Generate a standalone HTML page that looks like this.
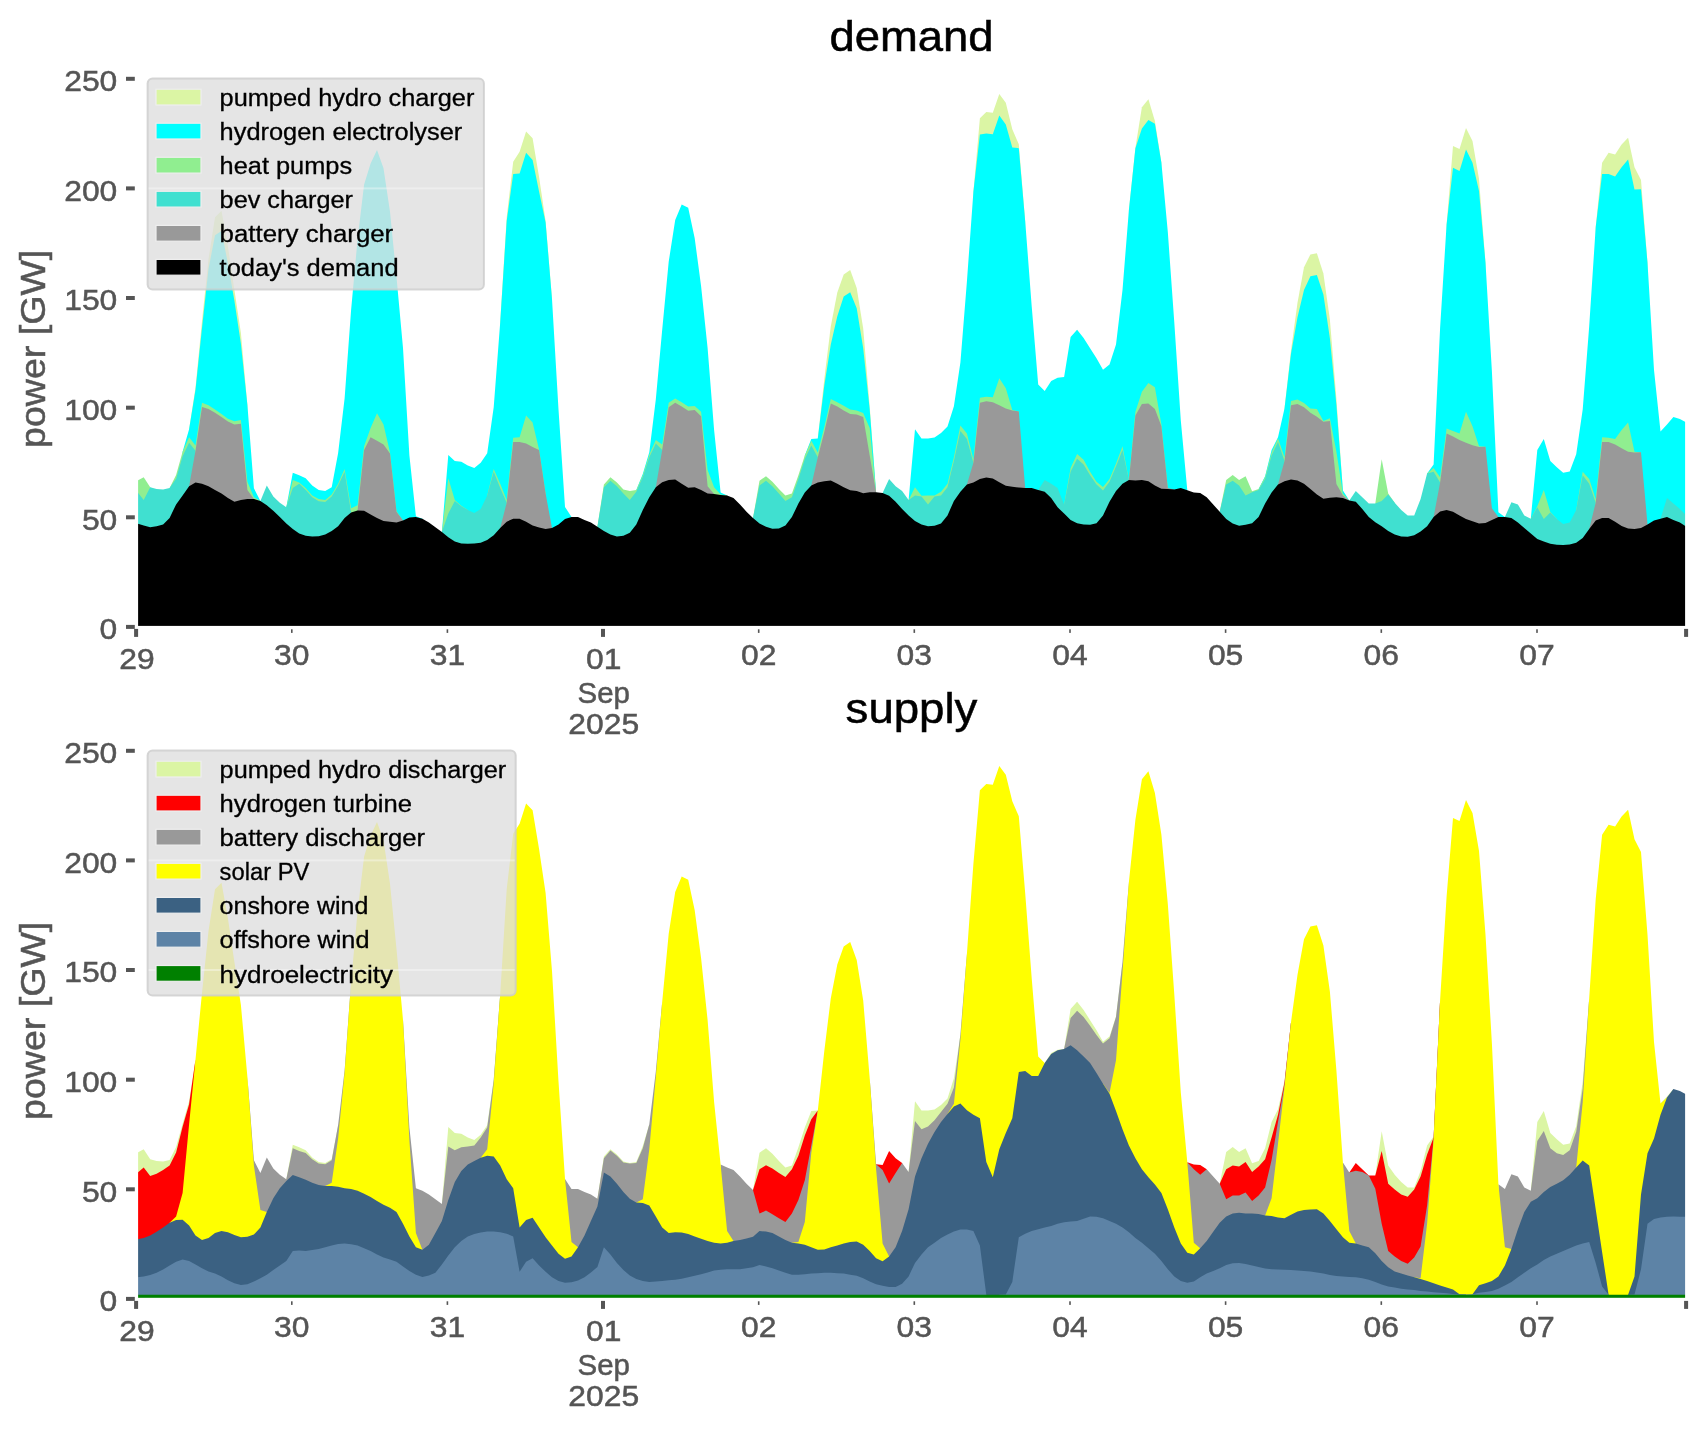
<!DOCTYPE html><html lang="en"><head><meta charset="utf-8"><title>demand / supply</title><style>html,body{margin:0;padding:0;background:#fff;}body{width:1706px;height:1431px;overflow:hidden;font-family:"Liberation Sans",sans-serif;}svg{display:block;will-change:transform}</style></head><body><svg width="1706" height="1431" viewBox="0 0 1706 1431" font-family="'Liberation Sans', sans-serif">
<rect width="1706" height="1431" fill="#fff"/>
<polygon fill="#dbf5a4" points="189.1,626.1 189.1,429.2 195.5,387.6 202.0,320.9 208.5,259.0 215.0,217.2 221.5,210.8 227.9,246.3 234.4,290.0 240.9,332.9 247.4,405.1 247.4,626.1"/>
<polygon fill="#dbf5a4" points="500.2,626.1 500.2,322.6 506.7,217.2 513.2,161.8 519.6,151.7 526.1,131.4 532.6,138.2 539.1,177.3 545.6,220.9 552.0,299.0 552.0,626.1"/>
<polygon fill="#dbf5a4" points="817.8,626.1 817.8,438.4 824.3,378.9 830.8,326.3 837.3,292.6 843.7,274.5 850.2,269.9 856.7,288.1 863.2,328.5 869.7,406.2 876.1,492.2 876.1,626.1"/>
<polygon fill="#dbf5a4" points="973.4,626.1 973.4,191.8 979.9,118.3 986.3,112.1 992.8,112.8 999.3,94.0 1005.8,102.7 1012.3,129.2 1018.8,144.3 1025.2,221.3 1025.2,626.1"/>
<polygon fill="#dbf5a4" points="1128.9,626.1 1128.9,209.9 1135.4,147.8 1141.9,107.3 1148.4,99.2 1154.9,120.9 1161.4,162.7 1161.4,626.1"/>
<polygon fill="#dbf5a4" points="1284.5,626.1 1284.5,408.4 1291.0,350.2 1297.5,302.7 1304.0,267.3 1310.4,254.6 1316.9,253.3 1323.4,273.6 1329.9,319.8 1336.4,398.5 1342.9,490.4 1342.9,626.1"/>
<polygon fill="#dbf5a4" points="1446.6,626.1 1446.6,224.6 1453.0,146.1 1459.5,149.1 1466.0,128.1 1472.5,141.0 1479.0,179.1 1485.5,262.7 1485.5,626.1"/>
<polygon fill="#dbf5a4" points="1595.7,626.1 1595.7,227.2 1602.1,162.7 1608.6,152.8 1615.1,154.6 1621.6,144.5 1628.1,137.7 1634.5,167.3 1641.0,180.0 1647.5,262.7 1647.5,626.1"/>
<polygon fill="#00ffff" points="182.6,626.1 182.6,451.7 189.1,429.2 195.5,389.8 202.0,328.1 208.5,269.0 215.0,235.3 221.5,230.9 227.9,263.5 234.4,300.7 240.9,343.8 247.4,405.1 253.9,488.3 260.4,500.9 260.4,626.1"/>
<polygon fill="#00ffff" points="286.3,626.1 286.3,507.3 292.8,472.7 299.2,475.3 305.7,478.2 312.2,485.4 318.7,490.0 325.2,490.9 331.7,487.2 338.1,453.2 344.6,398.5 351.1,309.9 357.6,239.0 364.1,184.6 370.6,163.6 377.0,150.0 383.5,168.2 390.0,211.7 396.5,277.1 403.0,348.0 409.4,455.4 415.9,516.3 422.4,518.7 422.4,626.1"/>
<polygon fill="#00ffff" points="441.9,626.1 441.9,532.0 448.3,455.0 454.8,460.9 461.3,461.8 467.8,465.5 474.3,468.1 480.7,462.7 487.2,453.2 493.7,407.3 500.2,322.6 506.7,220.9 513.2,174.1 519.6,173.6 526.1,152.8 532.6,160.1 539.1,191.8 545.6,222.6 552.0,299.0 558.5,409.5 565.0,506.9 571.5,516.9 571.5,626.1"/>
<polygon fill="#00ffff" points="636.3,626.1 636.3,490.0 642.8,474.0 649.3,452.2 655.8,399.6 662.2,329.8 668.7,261.8 675.2,220.0 681.7,204.5 688.2,207.8 694.7,238.2 701.1,286.3 707.6,348.0 714.1,430.1 720.6,492.6 727.1,495.5 727.1,626.1"/>
<polygon fill="#00ffff" points="804.8,626.1 804.8,455.4 811.3,439.0 817.8,438.4 824.3,385.4 830.8,344.5 837.3,316.3 843.7,296.4 850.2,292.2 856.7,308.2 863.2,348.2 869.7,409.5 876.1,492.2 876.1,626.1"/>
<polygon fill="#00ffff" points="908.6,626.1 908.6,499.9 915.0,429.2 921.5,438.4 928.0,438.6 934.5,437.5 941.0,432.9 947.5,426.6 953.9,406.2 960.4,362.4 966.9,281.7 973.4,191.8 979.9,134.5 986.3,133.6 992.8,134.2 999.3,115.4 1005.8,124.6 1012.3,147.4 1018.8,148.2 1025.2,221.3 1031.7,306.2 1038.2,384.5 1044.7,390.9 1051.2,381.0 1057.6,377.8 1064.1,377.1 1070.6,337.1 1077.1,329.8 1083.6,337.9 1090.1,348.2 1096.5,358.3 1103.0,369.7 1109.5,364.4 1116.0,344.5 1122.5,290.0 1128.9,209.9 1135.4,148.2 1141.9,128.5 1148.4,120.0 1154.9,123.7 1161.4,162.7 1167.8,231.8 1174.3,322.6 1180.8,420.4 1187.3,490.2 1187.3,626.1"/>
<polygon fill="#00ffff" points="1258.6,626.1 1258.6,489.1 1265.1,476.2 1271.6,450.0 1278.0,437.3 1284.5,408.4 1291.0,353.7 1297.5,317.2 1304.0,290.0 1310.4,276.2 1316.9,275.1 1323.4,294.4 1329.9,338.4 1336.4,405.1 1342.9,490.4 1349.3,500.5 1349.3,626.1"/>
<polygon fill="#00ffff" points="1427.1,626.1 1427.1,473.6 1433.6,464.4 1440.1,328.1 1446.6,224.6 1453.0,167.7 1459.5,171.0 1466.0,149.6 1472.5,162.7 1479.0,190.9 1485.5,262.7 1491.9,371.2 1498.4,512.3 1504.9,517.1 1504.9,626.1"/>
<polygon fill="#00ffff" points="1530.8,626.1 1530.8,518.7 1537.3,450.0 1543.8,439.0 1550.3,460.9 1556.8,467.3 1563.2,472.7 1569.7,471.6 1576.2,454.3 1582.7,409.5 1589.2,326.3 1595.7,227.2 1602.1,174.1 1608.6,174.1 1615.1,176.5 1621.6,167.3 1628.1,159.6 1634.5,189.6 1641.0,189.2 1647.5,262.7 1654.0,370.1 1660.5,431.4 1667.0,424.6 1673.4,416.9 1679.9,419.1 1686.4,422.6 1686.4,626.1"/>
<polygon fill="#90ee90" points="137.2,626.1 137.2,480.8 143.7,477.3 150.2,487.2 150.2,626.1"/>
<polygon fill="#90ee90" points="169.6,626.1 169.6,488.0 176.1,474.9 182.6,451.7 189.1,437.3 195.5,445.4 202.0,402.7 208.5,405.3 215.0,409.5 221.5,414.1 227.9,418.7 234.4,421.3 240.9,420.0 247.4,481.7 253.9,497.2 260.4,500.9 260.4,626.1"/>
<polygon fill="#90ee90" points="286.3,626.1 286.3,507.3 292.8,479.9 299.2,482.6 305.7,488.0 312.2,495.5 318.7,499.0 325.2,499.9 331.7,494.4 338.1,483.7 344.6,469.0 351.1,508.2 357.6,505.3 364.1,446.2 370.6,428.1 377.0,413.2 383.5,424.6 390.0,452.6 396.5,511.2 403.0,520.4 403.0,626.1"/>
<polygon fill="#90ee90" points="441.9,626.1 441.9,532.0 448.3,478.2 454.8,499.9 461.3,505.8 467.8,509.9 467.8,626.1"/>
<polygon fill="#90ee90" points="487.2,626.1 487.2,495.5 493.7,469.0 500.2,483.7 506.7,499.9 513.2,437.7 519.6,437.3 526.1,415.4 532.6,422.6 539.1,449.7 545.6,493.5 545.6,626.1"/>
<polygon fill="#90ee90" points="597.4,626.1 597.4,526.8 603.9,484.5 610.4,477.3 616.9,482.6 623.4,489.6 629.8,490.9 636.3,490.0 642.8,475.3 649.3,454.6 655.8,439.9 662.2,444.5 668.7,402.7 675.2,398.5 681.7,402.3 688.2,406.4 694.7,406.0 701.1,411.7 707.6,469.9 714.1,487.2 720.6,494.4 727.1,495.5 727.1,626.1"/>
<polygon fill="#90ee90" points="753.0,626.1 753.0,518.0 759.5,480.8 766.0,476.2 772.4,481.7 778.9,489.1 785.4,495.5 791.9,493.5 798.4,475.3 804.8,455.4 811.3,440.8 817.8,452.6 824.3,427.0 830.8,399.0 837.3,402.3 843.7,405.8 850.2,409.5 856.7,410.4 863.2,413.0 869.7,428.1 876.1,492.2 876.1,626.1"/>
<polygon fill="#90ee90" points="908.6,626.1 908.6,499.9 915.0,487.2 921.5,495.7 928.0,495.5 934.5,495.5 941.0,491.8 947.5,483.7 953.9,457.2 960.4,425.5 966.9,433.6 973.4,459.2 979.9,397.7 986.3,396.8 992.8,397.2 999.3,378.2 1005.8,388.3 1012.3,409.9 1018.8,411.5 1018.8,626.1"/>
<polygon fill="#90ee90" points="1064.1,626.1 1064.1,504.4 1070.6,468.1 1077.1,453.9 1083.6,459.8 1090.1,471.8 1096.5,481.7 1103.0,486.9 1109.5,479.1 1116.0,463.5 1122.5,446.2 1128.9,479.9 1135.4,411.7 1141.9,391.8 1148.4,383.0 1154.9,387.2 1161.4,424.6 1167.8,488.0 1167.8,626.1"/>
<polygon fill="#90ee90" points="1219.7,626.1 1219.7,511.7 1226.2,479.9 1232.7,474.9 1239.1,479.9 1245.6,476.2 1252.1,491.3 1258.6,489.1 1265.1,477.1 1271.6,452.6 1278.0,438.2 1284.5,457.2 1291.0,401.0 1297.5,399.4 1304.0,403.1 1310.4,408.6 1316.9,409.1 1323.4,420.9 1329.9,418.2 1336.4,451.7 1342.9,493.5 1349.3,500.5 1349.3,626.1"/>
<polygon fill="#90ee90" points="1375.3,626.1 1375.3,503.6 1381.7,459.2 1388.2,493.5 1394.7,502.7 1394.7,626.1"/>
<polygon fill="#90ee90" points="1427.1,626.1 1427.1,473.6 1433.6,468.1 1440.1,477.3 1446.6,428.5 1453.0,430.9 1459.5,433.6 1466.0,411.7 1472.5,426.3 1479.0,446.2 1485.5,446.7 1485.5,626.1"/>
<polygon fill="#90ee90" points="1530.8,626.1 1530.8,518.7 1537.3,506.2 1543.8,490.0 1550.3,512.1 1556.8,519.1 1556.8,626.1"/>
<polygon fill="#90ee90" points="1576.2,626.1 1576.2,509.9 1582.7,471.8 1589.2,479.1 1595.7,499.2 1602.1,437.3 1608.6,437.7 1615.1,439.0 1621.6,430.1 1628.1,422.6 1634.5,451.7 1641.0,452.2 1641.0,626.1"/>
<polygon fill="#40e0d0" points="137.2,626.1 137.2,491.8 143.7,499.9 150.2,487.2 156.6,489.1 163.1,489.6 169.6,488.0 176.1,478.8 182.6,456.3 189.1,442.7 195.5,450.8 195.5,626.1"/>
<polygon fill="#40e0d0" points="260.4,626.1 260.4,500.9 266.8,485.4 273.3,496.4 279.8,502.7 286.3,507.3 292.8,488.0 299.2,483.7 305.7,490.0 312.2,497.2 318.7,501.2 325.2,502.0 331.7,496.6 338.1,485.8 344.6,471.8 351.1,512.5 351.1,626.1"/>
<polygon fill="#40e0d0" points="441.9,626.1 441.9,532.0 448.3,513.6 454.8,500.9 461.3,506.2 467.8,509.9 474.3,513.0 480.7,509.0 487.2,495.5 493.7,471.8 500.2,488.0 506.7,502.7 506.7,626.1"/>
<polygon fill="#40e0d0" points="597.4,626.1 597.4,526.8 603.9,487.2 610.4,480.8 616.9,486.3 623.4,493.5 629.8,499.9 636.3,491.8 642.8,477.1 649.3,457.2 655.8,443.6 662.2,450.0 662.2,626.1"/>
<polygon fill="#40e0d0" points="753.0,626.1 753.0,518.0 759.5,485.4 766.0,480.8 772.4,486.3 778.9,493.5 785.4,500.9 791.9,497.2 798.4,479.1 804.8,458.9 811.3,445.4 817.8,457.2 817.8,626.1"/>
<polygon fill="#40e0d0" points="882.6,626.1 882.6,493.1 889.1,479.1 895.6,486.3 902.1,490.9 908.6,499.9 915.0,495.5 921.5,496.4 928.0,504.4 934.5,496.4 941.0,495.5 947.5,487.2 953.9,460.9 960.4,430.9 966.9,439.0 973.4,462.7 973.4,626.1"/>
<polygon fill="#40e0d0" points="1038.2,626.1 1038.2,490.0 1044.7,479.9 1051.2,483.7 1057.6,488.0 1064.1,504.4 1070.6,471.8 1077.1,458.7 1083.6,464.4 1090.1,475.3 1096.5,484.5 1103.0,490.4 1109.5,481.7 1116.0,466.4 1122.5,450.0 1128.9,479.9 1128.9,626.1"/>
<polygon fill="#40e0d0" points="1219.7,626.1 1219.7,511.7 1226.2,484.5 1232.7,480.8 1239.1,485.4 1245.6,495.5 1252.1,492.2 1258.6,490.0 1265.1,479.1 1271.6,455.4 1278.0,441.9 1284.5,460.9 1284.5,626.1"/>
<polygon fill="#40e0d0" points="1349.3,626.1 1349.3,500.5 1355.8,490.9 1362.3,497.2 1368.8,503.6 1375.3,503.6 1381.7,500.9 1388.2,494.6 1394.7,502.7 1401.2,509.9 1407.7,515.4 1414.2,515.4 1420.6,499.0 1427.1,473.6 1433.6,471.8 1440.1,482.6 1440.1,626.1"/>
<polygon fill="#40e0d0" points="1504.9,626.1 1504.9,517.1 1511.4,502.3 1517.9,504.4 1524.3,515.4 1530.8,518.7 1537.3,507.3 1543.8,519.1 1550.3,512.5 1556.8,519.1 1563.2,524.1 1569.7,522.6 1576.2,509.9 1582.7,475.3 1589.2,483.7 1595.7,502.7 1595.7,626.1"/>
<polygon fill="#40e0d0" points="1660.5,626.1 1660.5,518.7 1667.0,498.1 1673.4,503.6 1679.9,509.0 1686.4,515.4 1686.4,626.1"/>
<polygon fill="#999999" points="189.1,626.1 189.1,486.3 195.5,450.8 202.0,406.9 208.5,409.1 215.0,412.8 221.5,417.1 227.9,421.5 234.4,424.6 240.9,423.7 247.4,490.0 253.9,499.0 253.9,626.1"/>
<polygon fill="#999999" points="357.6,626.1 357.6,510.4 364.1,450.0 370.6,437.3 377.0,440.8 383.5,444.5 390.0,453.5 396.5,511.7 403.0,520.4 403.0,626.1"/>
<polygon fill="#999999" points="500.2,626.1 500.2,528.1 506.7,502.7 513.2,441.9 519.6,441.9 526.1,443.6 532.6,447.1 539.1,450.0 545.6,493.5 552.0,528.1 552.0,626.1"/>
<polygon fill="#999999" points="655.8,626.1 655.8,487.2 662.2,450.0 668.7,407.3 675.2,402.7 681.7,406.4 688.2,410.8 694.7,409.9 701.1,416.3 707.6,486.3 714.1,493.9 714.1,626.1"/>
<polygon fill="#999999" points="811.3,626.1 811.3,485.4 817.8,457.2 824.3,432.0 830.8,403.6 837.3,406.4 843.7,410.4 850.2,414.1 856.7,414.5 863.2,417.1 869.7,455.4 876.1,492.2 876.1,626.1"/>
<polygon fill="#999999" points="966.9,626.1 966.9,484.5 973.4,462.7 979.9,402.7 986.3,401.2 992.8,402.3 999.3,405.3 1005.8,408.6 1012.3,410.4 1018.8,411.5 1025.2,488.0 1025.2,626.1"/>
<polygon fill="#999999" points="1128.9,626.1 1128.9,479.9 1135.4,415.4 1141.9,404.0 1148.4,403.6 1154.9,409.1 1161.4,426.3 1167.8,488.0 1174.3,489.4 1174.3,626.1"/>
<polygon fill="#999999" points="1278.0,626.1 1278.0,484.5 1284.5,460.9 1291.0,405.3 1297.5,404.0 1304.0,407.3 1310.4,412.8 1316.9,416.7 1323.4,421.7 1329.9,420.9 1336.4,483.9 1342.9,495.5 1349.3,500.5 1349.3,626.1"/>
<polygon fill="#999999" points="1433.6,626.1 1433.6,517.1 1440.1,482.6 1446.6,433.6 1453.0,436.4 1459.5,439.9 1466.0,442.7 1472.5,445.2 1479.0,447.1 1485.5,446.7 1491.9,508.2 1498.4,517.1 1498.4,626.1"/>
<polygon fill="#999999" points="1589.2,626.1 1589.2,529.0 1595.7,502.7 1602.1,441.9 1608.6,441.9 1615.1,444.5 1621.6,448.2 1628.1,451.7 1634.5,452.6 1641.0,452.2 1647.5,524.4 1647.5,626.1"/>
<polygon fill="#000000" points="137.2,626.1 137.2,523.5 143.7,525.5 150.2,527.2 156.6,526.3 163.1,524.6 169.6,518.0 176.1,504.4 182.6,495.5 189.1,486.3 195.5,482.6 202.0,483.7 208.5,486.3 215.0,490.0 221.5,493.5 227.9,498.1 234.4,501.8 240.9,499.9 247.4,499.0 253.9,499.0 260.4,500.9 266.8,505.3 273.3,510.8 279.8,517.1 286.3,523.5 292.8,529.0 299.2,533.5 305.7,535.7 312.2,536.6 318.7,536.2 325.2,534.4 331.7,530.9 338.1,526.3 344.6,518.0 351.1,512.5 357.6,510.4 364.1,510.8 370.6,514.5 377.0,518.0 383.5,520.9 390.0,521.7 396.5,522.6 403.0,520.4 409.4,517.6 415.9,517.1 422.4,518.7 428.9,522.6 435.4,527.2 441.9,532.0 448.3,537.3 454.8,541.6 461.3,543.6 467.8,543.8 474.3,543.6 480.7,542.7 487.2,539.9 493.7,535.3 500.2,528.1 506.7,521.7 513.2,518.7 519.6,518.7 526.1,521.7 532.6,525.5 539.1,527.6 545.6,529.0 552.0,528.1 558.5,524.4 565.0,519.1 571.5,516.9 578.0,516.9 584.5,520.0 590.9,522.6 597.4,526.8 603.9,530.9 610.4,534.4 616.9,536.4 623.4,535.7 629.8,532.7 636.3,524.4 642.8,509.9 649.3,497.2 655.8,487.2 662.2,482.3 668.7,479.9 675.2,479.5 681.7,483.7 688.2,487.8 694.7,487.2 701.1,490.0 707.6,493.5 714.1,493.9 720.6,495.0 727.1,495.5 733.5,498.1 740.0,504.4 746.5,511.7 753.0,518.0 759.5,523.5 766.0,526.8 772.4,528.7 778.9,528.5 785.4,525.5 791.9,517.1 798.4,503.6 804.8,492.6 811.3,485.4 817.8,482.6 824.3,481.3 830.8,480.4 837.3,483.7 843.7,487.2 850.2,490.2 856.7,491.1 863.2,493.3 869.7,492.2 876.1,492.2 882.6,493.1 889.1,495.7 895.6,501.8 902.1,509.0 908.6,515.4 915.0,520.9 921.5,524.4 928.0,526.3 934.5,525.7 941.0,523.5 947.5,515.4 953.9,500.9 960.4,491.8 966.9,484.5 973.4,482.6 979.9,479.1 986.3,477.5 992.8,478.4 999.3,482.3 1005.8,485.8 1012.3,486.7 1018.8,487.6 1025.2,488.0 1031.7,488.0 1038.2,490.0 1044.7,491.8 1051.2,498.1 1057.6,507.3 1064.1,513.6 1070.6,520.0 1077.1,523.3 1083.6,524.4 1090.1,524.8 1096.5,523.3 1103.0,515.4 1109.5,501.8 1116.0,490.9 1122.5,483.7 1128.9,479.9 1135.4,480.4 1141.9,479.9 1148.4,481.3 1154.9,485.4 1161.4,488.7 1167.8,489.1 1174.3,489.4 1180.8,488.0 1187.3,490.2 1193.8,492.6 1200.2,493.1 1206.7,497.2 1213.2,504.4 1219.7,511.7 1226.2,519.1 1232.7,523.5 1239.1,525.7 1245.6,524.8 1252.1,523.3 1258.6,516.9 1265.1,503.6 1271.6,492.6 1278.0,484.5 1284.5,481.3 1291.0,479.5 1297.5,480.4 1304.0,483.7 1310.4,489.1 1316.9,494.4 1323.4,498.8 1329.9,497.7 1336.4,497.2 1342.9,498.1 1349.3,500.5 1355.8,501.8 1362.3,509.0 1368.8,516.9 1375.3,522.2 1381.7,526.3 1388.2,530.9 1394.7,534.4 1401.2,536.6 1407.7,536.8 1414.2,535.3 1420.6,531.4 1427.1,526.3 1433.6,517.1 1440.1,511.4 1446.6,509.9 1453.0,511.7 1459.5,515.4 1466.0,519.1 1472.5,521.3 1479.0,523.5 1485.5,523.0 1491.9,520.0 1498.4,517.1 1504.9,517.1 1511.4,518.0 1517.9,522.6 1524.3,528.1 1530.8,533.5 1537.3,539.0 1543.8,541.6 1550.3,543.8 1556.8,544.7 1563.2,544.9 1569.7,544.5 1576.2,542.7 1582.7,538.1 1589.2,529.0 1595.7,520.4 1602.1,518.0 1608.6,518.0 1615.1,521.7 1621.6,525.9 1628.1,528.5 1634.5,529.0 1641.0,528.1 1647.5,524.4 1654.0,520.4 1660.5,518.7 1667.0,517.1 1673.4,520.0 1679.9,522.6 1686.4,526.8 1686.4,626.1"/>
<rect x="133.5" y="64.1" width="4.6" height="564.4" fill="#fff"/>
<rect x="1685.1" y="64.1" width="3" height="564.4" fill="#fff"/>
<rect x="133.5" y="625.9" width="1555" height="2.6" fill="#fff"/>
<rect x="126" y="624.9" width="8.8" height="4" fill="#555555"/>
<text x="117.3" y="639.3" font-size="29.9" text-anchor="end" fill="#555555" stroke="#555555" stroke-width="0.5" textLength="17.7" lengthAdjust="spacingAndGlyphs">0</text>
<rect x="126" y="515.3" width="8.8" height="4" fill="#555555"/>
<text x="117.3" y="529.7" font-size="29.9" text-anchor="end" fill="#555555" stroke="#555555" stroke-width="0.5" textLength="35.4" lengthAdjust="spacingAndGlyphs">50</text>
<rect x="126" y="405.7" width="8.8" height="4" fill="#555555"/>
<text x="117.3" y="420.1" font-size="29.9" text-anchor="end" fill="#555555" stroke="#555555" stroke-width="0.5" textLength="53.1" lengthAdjust="spacingAndGlyphs">100</text>
<rect x="126" y="296.0" width="8.8" height="4" fill="#555555"/>
<text x="117.3" y="310.4" font-size="29.9" text-anchor="end" fill="#555555" stroke="#555555" stroke-width="0.5" textLength="53.1" lengthAdjust="spacingAndGlyphs">150</text>
<rect x="126" y="186.4" width="8.8" height="4" fill="#555555"/>
<text x="117.3" y="200.8" font-size="29.9" text-anchor="end" fill="#555555" stroke="#555555" stroke-width="0.5" textLength="53.1" lengthAdjust="spacingAndGlyphs">200</text>
<rect x="126" y="76.8" width="8.8" height="4" fill="#555555"/>
<text x="117.3" y="91.2" font-size="29.9" text-anchor="end" fill="#555555" stroke="#555555" stroke-width="0.5" textLength="53.1" lengthAdjust="spacingAndGlyphs">250</text>
<rect x="134.1" y="628.9" width="4" height="8" fill="#555555"/>
<text x="136.9" y="669.0" font-size="29.9" text-anchor="middle" fill="#555555" stroke="#555555" stroke-width="0.5" textLength="35.4" lengthAdjust="spacingAndGlyphs">29</text>
<rect x="291.0" y="629.3" width="1.6" height="3.6" fill="#555555"/>
<text x="291.7" y="665.0" font-size="29.9" text-anchor="middle" fill="#555555" stroke="#555555" stroke-width="0.5" textLength="35.4" lengthAdjust="spacingAndGlyphs">30</text>
<rect x="446.6" y="629.3" width="1.6" height="3.6" fill="#555555"/>
<text x="447.4" y="665.0" font-size="29.9" text-anchor="middle" fill="#555555" stroke="#555555" stroke-width="0.5" textLength="35.4" lengthAdjust="spacingAndGlyphs">31</text>
<rect x="601.0" y="628.9" width="4" height="8" fill="#555555"/>
<text x="603.8" y="669.0" font-size="29.9" text-anchor="middle" fill="#555555" stroke="#555555" stroke-width="0.5" textLength="35.4" lengthAdjust="spacingAndGlyphs">01</text>
<rect x="757.9" y="629.3" width="1.6" height="3.6" fill="#555555"/>
<text x="758.7" y="665.0" font-size="29.9" text-anchor="middle" fill="#555555" stroke="#555555" stroke-width="0.5" textLength="35.4" lengthAdjust="spacingAndGlyphs">02</text>
<rect x="913.5" y="629.3" width="1.6" height="3.6" fill="#555555"/>
<text x="914.3" y="665.0" font-size="29.9" text-anchor="middle" fill="#555555" stroke="#555555" stroke-width="0.5" textLength="35.4" lengthAdjust="spacingAndGlyphs">03</text>
<rect x="1069.2" y="629.3" width="1.6" height="3.6" fill="#555555"/>
<text x="1070.0" y="665.0" font-size="29.9" text-anchor="middle" fill="#555555" stroke="#555555" stroke-width="0.5" textLength="35.4" lengthAdjust="spacingAndGlyphs">04</text>
<rect x="1224.8" y="629.3" width="1.6" height="3.6" fill="#555555"/>
<text x="1225.6" y="665.0" font-size="29.9" text-anchor="middle" fill="#555555" stroke="#555555" stroke-width="0.5" textLength="35.4" lengthAdjust="spacingAndGlyphs">05</text>
<rect x="1380.5" y="629.3" width="1.6" height="3.6" fill="#555555"/>
<text x="1381.2" y="665.0" font-size="29.9" text-anchor="middle" fill="#555555" stroke="#555555" stroke-width="0.5" textLength="35.4" lengthAdjust="spacingAndGlyphs">06</text>
<rect x="1536.2" y="629.3" width="1.6" height="3.6" fill="#555555"/>
<text x="1536.9" y="665.0" font-size="29.9" text-anchor="middle" fill="#555555" stroke="#555555" stroke-width="0.5" textLength="35.4" lengthAdjust="spacingAndGlyphs">07</text>
<rect x="1684.1" y="628.9" width="4" height="8" fill="#555555"/>
<text x="603.7" y="702.8" font-size="29.2" text-anchor="middle" fill="#555555" stroke="#555555" stroke-width="0.5" textLength="52.4" lengthAdjust="spacingAndGlyphs">Sep</text>
<text x="603.7" y="734.1" font-size="29.9" text-anchor="middle" fill="#555555" stroke="#555555" stroke-width="0.5" textLength="70.8" lengthAdjust="spacingAndGlyphs">2025</text>
<text x="911.5" y="51.0" font-size="42.0" text-anchor="middle" fill="#000" stroke="#000" stroke-width="0.5" textLength="164.2" lengthAdjust="spacingAndGlyphs">demand</text>
<text x="45.0" y="348.8" font-size="35.0" text-anchor="middle" fill="#555555" stroke="#555555" stroke-width="0.5" textLength="198.2" lengthAdjust="spacingAndGlyphs" transform="rotate(-90 45.0 348.8)">power [GW]</text>
<rect x="147.6" y="78.5" width="336.3" height="211.1" rx="5" ry="5" fill="#dfdfdf" fill-opacity="0.8" stroke="#cccccc" stroke-opacity="0.8" stroke-width="2"/>
<rect x="148.6" y="187.4" width="334.3" height="2" fill="#ffffff" fill-opacity="0.36"/>
<rect x="156.0" y="89.2" width="45" height="15.8" fill="#dbf5a4" stroke="#eeeeee" stroke-width="1.2"/>
<text x="219.6" y="106.2" font-size="23.3" text-anchor="start" fill="#000" stroke="#000" stroke-width="0.3" textLength="254.8" lengthAdjust="spacingAndGlyphs">pumped hydro charger</text>
<rect x="156.0" y="123.2" width="45" height="15.8" fill="#00ffff" stroke="#eeeeee" stroke-width="1.2"/>
<text x="219.6" y="140.2" font-size="23.3" text-anchor="start" fill="#000" stroke="#000" stroke-width="0.3" textLength="242.7" lengthAdjust="spacingAndGlyphs">hydrogen electrolyser</text>
<rect x="156.0" y="157.3" width="45" height="15.8" fill="#90ee90" stroke="#eeeeee" stroke-width="1.2"/>
<text x="219.6" y="174.3" font-size="23.3" text-anchor="start" fill="#000" stroke="#000" stroke-width="0.3" textLength="132.5" lengthAdjust="spacingAndGlyphs">heat pumps</text>
<rect x="156.0" y="191.3" width="45" height="15.8" fill="#40e0d0" stroke="#eeeeee" stroke-width="1.2"/>
<text x="219.6" y="208.3" font-size="23.3" text-anchor="start" fill="#000" stroke="#000" stroke-width="0.3" textLength="133.4" lengthAdjust="spacingAndGlyphs">bev charger</text>
<rect x="156.0" y="225.4" width="45" height="15.8" fill="#999999" stroke="#eeeeee" stroke-width="1.2"/>
<text x="219.6" y="242.4" font-size="23.3" text-anchor="start" fill="#000" stroke="#000" stroke-width="0.3" textLength="173.6" lengthAdjust="spacingAndGlyphs">battery charger</text>
<rect x="156.0" y="259.4" width="45" height="15.8" fill="#000000" stroke="#eeeeee" stroke-width="1.2"/>
<text x="219.6" y="276.4" font-size="23.3" text-anchor="start" fill="#000" stroke="#000" stroke-width="0.3" textLength="179.0" lengthAdjust="spacingAndGlyphs">today's demand</text>
<polygon fill="#dbf5a4" points="137.2,1298.1 137.2,1152.8 143.7,1149.3 150.2,1159.2 156.6,1161.1 163.1,1161.6 169.6,1160.0 176.1,1146.9 182.6,1123.7 189.1,1101.2 195.5,1059.6 195.5,1298.1"/>
<polygon fill="#dbf5a4" points="286.3,1298.1 286.3,1179.3 292.8,1144.7 299.2,1147.3 305.7,1150.2 312.2,1157.4 318.7,1162.0 325.2,1162.9 331.7,1159.2 338.1,1125.2 338.1,1298.1"/>
<polygon fill="#dbf5a4" points="441.9,1298.1 441.9,1204.0 448.3,1127.0 454.8,1132.9 461.3,1133.8 467.8,1137.5 474.3,1140.1 480.7,1134.7 487.2,1125.2 493.7,1079.3 500.2,994.6 500.2,1298.1"/>
<polygon fill="#dbf5a4" points="597.4,1298.1 597.4,1198.8 603.9,1156.5 610.4,1149.3 616.9,1154.6 623.4,1161.6 629.8,1162.9 636.3,1162.0 642.8,1146.0 649.3,1124.2 649.3,1298.1"/>
<polygon fill="#dbf5a4" points="753.0,1298.1 753.0,1190.0 759.5,1152.8 766.0,1148.2 772.4,1153.7 778.9,1161.1 785.4,1167.5 791.9,1165.5 798.4,1147.3 804.8,1127.4 811.3,1111.0 817.8,1110.4 817.8,1298.1"/>
<polygon fill="#dbf5a4" points="908.6,1298.1 908.6,1171.9 915.0,1101.2 921.5,1110.4 928.0,1110.6 934.5,1109.5 941.0,1104.9 947.5,1098.6 953.9,1078.2 960.4,1034.4 960.4,1298.1"/>
<polygon fill="#dbf5a4" points="1044.7,1298.1 1044.7,1062.9 1051.2,1053.0 1057.6,1049.8 1064.1,1049.1 1070.6,1009.1 1077.1,1001.8 1083.6,1009.9 1090.1,1020.2 1096.5,1030.3 1103.0,1041.7 1109.5,1036.4 1116.0,1016.5 1122.5,962.0 1122.5,1298.1"/>
<polygon fill="#dbf5a4" points="1219.7,1298.1 1219.7,1183.7 1226.2,1151.9 1232.7,1146.9 1239.1,1151.9 1245.6,1148.2 1252.1,1163.3 1258.6,1161.1 1265.1,1148.2 1271.6,1122.0 1278.0,1109.3 1284.5,1080.4 1291.0,1022.2 1291.0,1298.1"/>
<polygon fill="#dbf5a4" points="1375.3,1298.1 1375.3,1175.6 1381.7,1131.2 1388.2,1165.5 1394.7,1174.7 1401.2,1181.9 1407.7,1187.4 1414.2,1187.4 1420.6,1171.0 1427.1,1145.6 1433.6,1136.4 1440.1,1000.1 1440.1,1298.1"/>
<polygon fill="#dbf5a4" points="1530.8,1298.1 1530.8,1190.7 1537.3,1122.0 1543.8,1111.0 1550.3,1132.9 1556.8,1139.3 1563.2,1144.7 1569.7,1143.6 1576.2,1126.3 1582.7,1081.5 1589.2,998.3 1589.2,1298.1"/>
<polygon fill="#dbf5a4" points="1660.5,1298.1 1660.5,1103.4 1667.0,1096.6 1673.4,1088.9 1673.4,1298.1"/>
<polygon fill="#ff0000" points="137.2,1298.1 137.2,1172.9 143.7,1167.5 150.2,1176.0 156.6,1173.8 163.1,1170.1 169.6,1165.5 176.1,1152.4 182.6,1126.8 189.1,1104.2 195.5,1059.6 195.5,1298.1"/>
<polygon fill="#ff0000" points="753.0,1298.1 753.0,1190.0 759.5,1169.2 766.0,1165.3 772.4,1168.4 778.9,1172.9 785.4,1176.9 791.9,1169.2 798.4,1155.7 804.8,1135.5 811.3,1119.3 817.8,1110.4 817.8,1298.1"/>
<polygon fill="#ff0000" points="876.1,1298.1 876.1,1164.2 882.6,1165.1 889.1,1151.1 895.6,1158.3 902.1,1162.9 902.1,1298.1"/>
<polygon fill="#ff0000" points="1187.3,1298.1 1187.3,1162.2 1193.8,1164.6 1200.2,1165.1 1206.7,1169.2 1206.7,1298.1"/>
<polygon fill="#ff0000" points="1219.7,1298.1 1219.7,1183.7 1226.2,1169.2 1232.7,1165.5 1239.1,1166.4 1245.6,1162.0 1252.1,1171.9 1258.6,1166.4 1265.1,1159.2 1271.6,1137.5 1278.0,1114.7 1284.5,1082.6 1291.0,1022.2 1291.0,1298.1"/>
<polygon fill="#ff0000" points="1349.3,1298.1 1349.3,1172.5 1355.8,1162.9 1362.3,1169.2 1368.8,1175.6 1375.3,1175.6 1381.7,1151.1 1388.2,1183.7 1394.7,1189.6 1401.2,1194.6 1407.7,1196.8 1414.2,1189.6 1420.6,1176.4 1427.1,1154.6 1433.6,1137.5 1440.1,1000.1 1440.1,1298.1"/>
<polygon fill="#999999" points="247.4,1298.1 247.4,1077.1 253.9,1160.3 260.4,1172.9 266.8,1157.4 273.3,1168.4 279.8,1174.7 286.3,1179.3 292.8,1148.2 299.2,1151.1 305.7,1153.0 312.2,1159.2 318.7,1163.5 325.2,1164.2 331.7,1160.3 338.1,1125.2 344.6,1070.5 351.1,981.9 351.1,1298.1"/>
<polygon fill="#999999" points="403.0,1298.1 403.0,1020.0 409.4,1127.4 415.9,1188.3 422.4,1190.7 428.9,1194.6 435.4,1199.2 441.9,1204.0 448.3,1146.5 454.8,1150.2 461.3,1147.3 467.8,1146.5 474.3,1145.6 480.7,1137.5 487.2,1127.4 493.7,1080.4 500.2,994.6 500.2,1298.1"/>
<polygon fill="#999999" points="565.0,1298.1 565.0,1178.9 571.5,1188.9 578.0,1188.9 584.5,1192.0 590.9,1194.6 597.4,1198.8 603.9,1158.3 610.4,1150.4 616.9,1155.7 623.4,1162.4 629.8,1163.5 636.3,1162.9 642.8,1148.2 649.3,1124.2 655.8,1071.6 662.2,1001.8 662.2,1298.1"/>
<polygon fill="#999999" points="720.6,1298.1 720.6,1164.6 727.1,1167.5 733.5,1170.1 740.0,1176.4 746.5,1183.7 753.0,1190.0 759.5,1213.6 766.0,1210.6 772.4,1214.3 778.9,1218.2 785.4,1222.0 791.9,1213.6 798.4,1200.1 804.8,1180.2 811.3,1145.6 817.8,1110.4 817.8,1298.1"/>
<polygon fill="#999999" points="869.7,1298.1 869.7,1078.2 876.1,1164.2 882.6,1170.1 889.1,1183.4 895.6,1172.9 902.1,1162.9 908.6,1171.9 915.0,1121.1 921.5,1129.2 928.0,1126.6 934.5,1120.2 941.0,1111.9 947.5,1103.8 953.9,1087.4 960.4,1034.4 966.9,953.7 966.9,1298.1"/>
<polygon fill="#999999" points="1064.1,1298.1 1064.1,1049.1 1070.6,1018.0 1077.1,1010.8 1083.6,1016.9 1090.1,1025.7 1096.5,1034.9 1103.0,1043.6 1109.5,1038.2 1116.0,1016.9 1122.5,962.0 1128.9,881.9 1128.9,1298.1"/>
<polygon fill="#999999" points="1187.3,1298.1 1187.3,1162.2 1193.8,1169.2 1200.2,1174.7 1206.7,1169.2 1213.2,1176.4 1219.7,1183.7 1226.2,1199.2 1232.7,1195.5 1239.1,1195.5 1245.6,1192.4 1252.1,1201.0 1258.6,1195.5 1265.1,1187.4 1271.6,1160.0 1278.0,1122.0 1284.5,1084.8 1291.0,1022.2 1291.0,1298.1"/>
<polygon fill="#999999" points="1342.9,1298.1 1342.9,1162.4 1349.3,1172.5 1355.8,1170.8 1362.3,1171.9 1368.8,1175.6 1375.3,1188.7 1381.7,1223.7 1388.2,1251.1 1394.7,1256.5 1401.2,1260.9 1407.7,1263.7 1414.2,1257.6 1420.6,1246.5 1427.1,1205.5 1433.6,1138.4 1440.1,1000.1 1440.1,1298.1"/>
<polygon fill="#999999" points="1498.4,1298.1 1498.4,1184.3 1504.9,1189.1 1511.4,1174.3 1517.9,1176.4 1524.3,1187.4 1530.8,1190.7 1537.3,1141.0 1543.8,1130.9 1550.3,1148.2 1556.8,1153.3 1563.2,1155.0 1569.7,1150.2 1576.2,1131.8 1582.7,1088.5 1589.2,998.3 1589.2,1298.1"/>
<polygon fill="#ffff00" points="169.6,1298.1 169.6,1222.8 176.1,1216.5 182.6,1192.9 189.1,1124.2 195.5,1059.6 202.0,992.9 208.5,931.0 215.0,889.2 221.5,882.8 227.9,918.3 234.4,962.0 240.9,1004.9 247.4,1077.1 253.9,1165.5 260.4,1210.1 266.8,1211.9 266.8,1298.1"/>
<polygon fill="#ffff00" points="325.2,1298.1 325.2,1185.9 331.7,1182.8 338.1,1138.4 344.6,1072.7 351.1,981.9 357.6,911.0 364.1,856.6 370.6,835.6 377.0,822.0 383.5,840.2 390.0,883.7 396.5,949.1 403.0,1020.0 409.4,1140.6 415.9,1232.9 422.4,1249.7 422.4,1298.1"/>
<polygon fill="#ffff00" points="480.7,1298.1 480.7,1157.8 487.2,1149.3 493.7,1083.7 500.2,994.6 506.7,889.2 513.2,833.8 519.6,823.7 526.1,803.4 532.6,810.2 539.1,849.3 545.6,892.9 552.0,971.0 558.5,1081.5 565.0,1178.9 571.5,1241.9 578.0,1247.3 578.0,1298.1"/>
<polygon fill="#ffff00" points="636.3,1298.1 636.3,1202.5 642.8,1199.2 649.3,1149.3 655.8,1077.1 662.2,1001.8 668.7,933.8 675.2,892.0 681.7,876.5 688.2,879.8 694.7,910.2 701.1,958.3 707.6,1020.0 714.1,1102.1 720.6,1164.6 727.1,1230.9 733.5,1241.0 733.5,1298.1"/>
<polygon fill="#ffff00" points="791.9,1298.1 791.9,1242.7 798.4,1241.9 804.8,1222.0 811.3,1152.8 817.8,1110.4 824.3,1050.9 830.8,998.3 837.3,964.6 843.7,946.5 850.2,941.9 856.7,960.1 863.2,1000.5 869.7,1078.2 876.1,1169.2 882.6,1243.6 889.1,1256.5 889.1,1298.1"/>
<polygon fill="#ffff00" points="947.5,1298.1 947.5,1113.9 953.9,1103.8 960.4,1039.9 966.9,953.7 973.4,863.8 979.9,790.3 986.3,784.1 992.8,784.8 999.3,766.0 1005.8,774.7 1012.3,801.2 1018.8,816.3 1025.2,893.3 1031.7,978.2 1038.2,1056.5 1044.7,1062.9 1044.7,1298.1"/>
<polygon fill="#ffff00" points="1103.0,1298.1 1103.0,1083.7 1109.5,1092.9 1116.0,1060.3 1122.5,972.1 1128.9,881.9 1135.4,819.8 1141.9,779.3 1148.4,771.2 1154.9,792.9 1161.4,834.7 1167.8,903.8 1174.3,994.6 1180.8,1092.4 1187.3,1162.2 1193.8,1242.7 1200.2,1248.2 1200.2,1298.1"/>
<polygon fill="#ffff00" points="1265.1,1298.1 1265.1,1215.6 1271.6,1198.3 1278.0,1143.8 1284.5,1087.0 1291.0,1022.2 1297.5,974.7 1304.0,939.3 1310.4,926.6 1316.9,925.3 1323.4,945.6 1329.9,991.8 1336.4,1070.5 1342.9,1162.4 1349.3,1230.9 1355.8,1243.6 1355.8,1298.1"/>
<polygon fill="#ffff00" points="1414.2,1298.1 1414.2,1277.3 1420.6,1278.2 1427.1,1223.7 1433.6,1140.1 1440.1,1000.1 1446.6,896.6 1453.0,818.1 1459.5,821.1 1466.0,800.1 1472.5,813.0 1479.0,851.1 1485.5,934.7 1491.9,1043.2 1498.4,1184.3 1504.9,1247.3 1511.4,1249.1 1511.4,1298.1"/>
<polygon fill="#ffff00" points="1576.2,1298.1 1576.2,1167.5 1582.7,1102.3 1589.2,998.3 1595.7,899.2 1602.1,834.7 1608.6,824.8 1615.1,826.6 1621.6,816.5 1628.1,809.7 1634.5,839.3 1641.0,852.0 1647.5,934.7 1654.0,1042.1 1660.5,1103.4 1667.0,1097.5 1667.0,1298.1"/>
<polygon fill="#3b6182" points="137.2,1298.1 137.2,1239.2 143.7,1237.9 150.2,1235.5 156.6,1231.8 163.1,1227.4 169.6,1222.8 176.1,1220.0 182.6,1219.8 189.1,1225.5 195.5,1235.5 202.0,1240.1 208.5,1237.9 215.0,1232.9 221.5,1230.9 227.9,1232.2 234.4,1235.1 240.9,1237.3 247.4,1236.8 253.9,1234.6 260.4,1227.4 266.8,1211.9 273.3,1198.3 279.8,1188.3 286.3,1181.0 292.8,1174.9 299.2,1177.3 305.7,1179.7 312.2,1182.8 318.7,1185.0 325.2,1185.9 331.7,1186.1 338.1,1186.7 344.6,1188.3 351.1,1189.1 357.6,1190.7 364.1,1193.7 370.6,1197.0 377.0,1201.0 383.5,1204.7 390.0,1207.7 396.5,1211.9 403.0,1223.7 409.4,1236.4 415.9,1247.3 422.4,1249.7 428.9,1244.7 435.4,1232.9 441.9,1221.1 448.3,1200.1 454.8,1181.9 461.3,1171.0 467.8,1164.6 474.3,1161.1 480.7,1157.8 487.2,1155.7 493.7,1156.5 500.2,1165.5 506.7,1179.3 513.2,1188.3 519.6,1227.6 526.1,1220.0 532.6,1217.8 539.1,1227.4 545.6,1237.3 552.0,1245.6 558.5,1253.7 565.0,1258.7 571.5,1256.5 578.0,1247.3 584.5,1235.5 590.9,1221.1 597.4,1206.4 603.9,1172.5 610.4,1176.4 616.9,1183.7 623.4,1192.0 629.8,1198.8 636.3,1202.5 642.8,1202.9 649.3,1205.5 655.8,1216.5 662.2,1227.4 668.7,1233.1 675.2,1232.2 681.7,1232.5 688.2,1234.0 694.7,1236.4 701.1,1238.8 707.6,1241.0 714.1,1242.7 720.6,1243.6 727.1,1242.7 733.5,1241.0 740.0,1240.1 746.5,1238.6 753.0,1236.8 759.5,1230.9 766.0,1231.6 772.4,1232.9 778.9,1236.4 785.4,1240.1 791.9,1242.7 798.4,1243.4 804.8,1244.7 811.3,1247.3 817.8,1249.7 824.3,1249.5 830.8,1247.3 837.3,1245.6 843.7,1243.6 850.2,1241.9 856.7,1241.4 863.2,1244.7 869.7,1251.1 876.1,1258.3 882.6,1261.3 889.1,1256.5 895.6,1247.3 902.1,1230.9 908.6,1209.3 915.0,1176.4 921.5,1158.3 928.0,1143.8 934.5,1132.0 941.0,1122.0 947.5,1113.9 953.9,1106.4 960.4,1103.4 966.9,1110.2 973.4,1114.7 979.9,1118.2 986.3,1162.0 992.8,1177.3 999.3,1149.3 1005.8,1132.9 1012.3,1118.2 1018.8,1072.1 1025.2,1071.0 1031.7,1076.0 1038.2,1076.0 1044.7,1062.9 1051.2,1053.9 1057.6,1050.2 1064.1,1049.1 1070.6,1045.2 1077.1,1050.2 1083.6,1056.5 1090.1,1062.9 1096.5,1073.0 1103.0,1083.7 1109.5,1093.7 1116.0,1111.0 1122.5,1129.2 1128.9,1145.6 1135.4,1158.3 1141.9,1169.2 1148.4,1177.3 1154.9,1184.5 1161.4,1192.9 1167.8,1209.3 1174.3,1227.4 1180.8,1243.6 1187.3,1252.8 1193.8,1254.6 1200.2,1248.2 1206.7,1241.0 1213.2,1231.8 1219.7,1222.8 1226.2,1216.5 1232.7,1213.6 1239.1,1212.8 1245.6,1213.6 1252.1,1213.6 1258.6,1214.1 1265.1,1215.6 1271.6,1216.0 1278.0,1217.4 1284.5,1218.2 1291.0,1214.7 1297.5,1211.5 1304.0,1210.1 1310.4,1209.5 1316.9,1209.3 1323.4,1213.6 1329.9,1221.1 1336.4,1229.2 1342.9,1237.3 1349.3,1242.7 1355.8,1243.6 1362.3,1245.6 1368.8,1247.3 1375.3,1253.2 1381.7,1260.9 1388.2,1267.2 1394.7,1271.4 1401.2,1273.6 1407.7,1275.6 1414.2,1277.3 1420.6,1279.1 1427.1,1281.0 1433.6,1283.2 1440.1,1285.4 1446.6,1287.6 1453.0,1289.6 1459.5,1294.2 1466.0,1294.6 1466.0,1298.1"/>
<polygon fill="#3b6182" points="1472.5,1298.1 1472.5,1294.2 1479.0,1285.2 1485.5,1283.2 1491.9,1281.0 1498.4,1276.4 1504.9,1265.5 1511.4,1249.1 1517.9,1229.2 1524.3,1211.9 1530.8,1201.8 1537.3,1198.3 1543.8,1192.0 1550.3,1186.9 1556.8,1183.7 1563.2,1180.2 1569.7,1174.7 1576.2,1167.5 1582.7,1160.5 1589.2,1165.5 1595.7,1209.3 1602.1,1251.9 1608.6,1294.8 1608.6,1298.1"/>
<polygon fill="#3b6182" points="1628.1,1298.1 1628.1,1294.8 1634.5,1276.4 1641.0,1194.6 1647.5,1153.3 1654.0,1138.4 1660.5,1114.7 1667.0,1097.5 1673.4,1088.9 1679.9,1091.1 1686.4,1094.6 1686.4,1298.1"/>
<polygon fill="#5d83a6" points="137.2,1298.1 137.2,1277.3 143.7,1276.4 150.2,1275.1 156.6,1272.7 163.1,1269.4 169.6,1265.5 176.1,1261.8 182.6,1259.6 189.1,1260.9 195.5,1264.6 202.0,1268.3 208.5,1271.4 215.0,1273.6 221.5,1276.4 227.9,1280.2 234.4,1283.2 240.9,1285.0 247.4,1284.3 253.9,1281.5 260.4,1278.2 266.8,1274.7 273.3,1270.1 279.8,1265.5 286.3,1260.9 292.8,1251.1 299.2,1250.6 305.7,1251.1 312.2,1250.0 318.7,1249.1 325.2,1247.3 331.7,1245.6 338.1,1244.1 344.6,1243.6 351.1,1244.3 357.6,1245.6 364.1,1248.2 370.6,1251.1 377.0,1254.6 383.5,1257.4 390.0,1259.6 396.5,1261.8 403.0,1266.4 409.4,1271.0 415.9,1274.7 422.4,1276.9 428.9,1275.6 435.4,1272.7 441.9,1264.6 448.3,1255.4 454.8,1247.3 461.3,1241.0 467.8,1236.4 474.3,1234.0 480.7,1232.5 487.2,1231.4 493.7,1231.4 500.2,1232.2 506.7,1233.8 513.2,1236.4 519.6,1271.8 526.1,1261.8 532.6,1258.3 539.1,1265.5 545.6,1271.8 552.0,1277.3 558.5,1281.0 565.0,1282.8 571.5,1282.3 578.0,1280.4 584.5,1277.3 590.9,1272.5 597.4,1267.0 603.9,1247.3 610.4,1254.6 616.9,1262.9 623.4,1270.1 629.8,1275.6 636.3,1279.1 642.8,1281.0 649.3,1281.9 655.8,1281.5 662.2,1281.0 668.7,1280.2 675.2,1279.7 681.7,1278.8 688.2,1277.3 694.7,1275.8 701.1,1274.3 707.6,1272.5 714.1,1270.5 720.6,1269.7 727.1,1269.2 733.5,1269.2 740.0,1269.2 746.5,1268.3 753.0,1267.2 759.5,1265.1 766.0,1266.4 772.4,1268.3 778.9,1270.5 785.4,1272.7 791.9,1274.7 798.4,1274.7 804.8,1274.3 811.3,1273.6 817.8,1273.2 824.3,1272.7 830.8,1272.7 837.3,1273.2 843.7,1273.6 850.2,1274.7 856.7,1275.8 863.2,1278.2 869.7,1281.5 876.1,1284.3 882.6,1285.8 889.1,1286.9 895.6,1286.9 902.1,1283.7 908.6,1276.4 915.0,1262.9 921.5,1254.6 928.0,1247.3 934.5,1242.7 941.0,1238.1 947.5,1234.6 953.9,1231.6 960.4,1229.6 966.9,1229.6 973.4,1230.9 979.9,1245.6 986.3,1294.8 986.3,1298.1"/>
<polygon fill="#5d83a6" points="999.3,1298.1 999.3,1294.8 1005.8,1294.6 1012.3,1281.9 1018.8,1237.3 1025.2,1233.8 1031.7,1230.9 1038.2,1229.2 1044.7,1227.4 1051.2,1225.9 1057.6,1223.7 1064.1,1222.2 1070.6,1221.5 1077.1,1221.1 1083.6,1218.7 1090.1,1216.5 1096.5,1216.7 1103.0,1218.2 1109.5,1221.1 1116.0,1223.7 1122.5,1227.4 1128.9,1232.2 1135.4,1237.9 1141.9,1242.7 1148.4,1248.2 1154.9,1253.7 1161.4,1260.9 1167.8,1269.2 1174.3,1276.4 1180.8,1281.0 1187.3,1282.8 1193.8,1281.5 1200.2,1277.3 1206.7,1273.6 1213.2,1271.0 1219.7,1268.3 1226.2,1265.1 1232.7,1263.3 1239.1,1263.1 1245.6,1264.0 1252.1,1265.5 1258.6,1267.0 1265.1,1268.6 1271.6,1269.2 1278.0,1269.4 1284.5,1269.7 1291.0,1270.1 1297.5,1270.5 1304.0,1271.0 1310.4,1271.4 1316.9,1272.5 1323.4,1273.6 1329.9,1274.9 1336.4,1276.0 1342.9,1276.4 1349.3,1276.9 1355.8,1277.3 1362.3,1278.2 1368.8,1279.7 1375.3,1282.1 1381.7,1284.5 1388.2,1286.5 1394.7,1287.6 1401.2,1288.7 1407.7,1289.6 1414.2,1290.0 1420.6,1290.9 1427.1,1291.5 1433.6,1292.2 1440.1,1292.8 1446.6,1293.3 1453.0,1293.9 1459.5,1294.6 1466.0,1294.6 1472.5,1294.2 1479.0,1292.8 1485.5,1292.0 1491.9,1290.9 1498.4,1288.7 1504.9,1285.4 1511.4,1281.9 1517.9,1277.3 1524.3,1272.7 1530.8,1268.3 1537.3,1264.6 1543.8,1260.0 1550.3,1256.5 1556.8,1253.7 1563.2,1251.1 1569.7,1248.2 1576.2,1245.6 1582.7,1243.4 1589.2,1241.9 1595.7,1262.9 1602.1,1286.5 1608.6,1294.8 1608.6,1298.1"/>
<polygon fill="#5d83a6" points="1628.1,1298.1 1628.1,1294.8 1634.5,1294.6 1641.0,1269.2 1647.5,1223.7 1654.0,1219.1 1660.5,1217.4 1667.0,1216.7 1673.4,1216.5 1679.9,1216.7 1686.4,1216.7 1686.4,1298.1"/>
<polygon fill="#008000" points="137.2,1298.1 137.2,1294.8 143.7,1294.8 150.2,1294.8 156.6,1294.8 163.1,1294.8 169.6,1294.8 176.1,1294.8 182.6,1294.8 189.1,1294.8 195.5,1294.8 202.0,1294.8 208.5,1294.8 215.0,1294.8 221.5,1294.8 227.9,1294.8 234.4,1294.8 240.9,1294.8 247.4,1294.8 253.9,1294.8 260.4,1294.8 266.8,1294.8 273.3,1294.8 279.8,1294.8 286.3,1294.8 292.8,1294.8 299.2,1294.8 305.7,1294.8 312.2,1294.8 318.7,1294.8 325.2,1294.8 331.7,1294.8 338.1,1294.8 344.6,1294.8 351.1,1294.8 357.6,1294.8 364.1,1294.8 370.6,1294.8 377.0,1294.8 383.5,1294.8 390.0,1294.8 396.5,1294.8 403.0,1294.8 409.4,1294.8 415.9,1294.8 422.4,1294.8 428.9,1294.8 435.4,1294.8 441.9,1294.8 448.3,1294.8 454.8,1294.8 461.3,1294.8 467.8,1294.8 474.3,1294.8 480.7,1294.8 487.2,1294.8 493.7,1294.8 500.2,1294.8 506.7,1294.8 513.2,1294.8 519.6,1294.8 526.1,1294.8 532.6,1294.8 539.1,1294.8 545.6,1294.8 552.0,1294.8 558.5,1294.8 565.0,1294.8 571.5,1294.8 578.0,1294.8 584.5,1294.8 590.9,1294.8 597.4,1294.8 603.9,1294.8 610.4,1294.8 616.9,1294.8 623.4,1294.8 629.8,1294.8 636.3,1294.8 642.8,1294.8 649.3,1294.8 655.8,1294.8 662.2,1294.8 668.7,1294.8 675.2,1294.8 681.7,1294.8 688.2,1294.8 694.7,1294.8 701.1,1294.8 707.6,1294.8 714.1,1294.8 720.6,1294.8 727.1,1294.8 733.5,1294.8 740.0,1294.8 746.5,1294.8 753.0,1294.8 759.5,1294.8 766.0,1294.8 772.4,1294.8 778.9,1294.8 785.4,1294.8 791.9,1294.8 798.4,1294.8 804.8,1294.8 811.3,1294.8 817.8,1294.8 824.3,1294.8 830.8,1294.8 837.3,1294.8 843.7,1294.8 850.2,1294.8 856.7,1294.8 863.2,1294.8 869.7,1294.8 876.1,1294.8 882.6,1294.8 889.1,1294.8 895.6,1294.8 902.1,1294.8 908.6,1294.8 915.0,1294.8 921.5,1294.8 928.0,1294.8 934.5,1294.8 941.0,1294.8 947.5,1294.8 953.9,1294.8 960.4,1294.8 966.9,1294.8 973.4,1294.8 979.9,1294.8 986.3,1294.8 992.8,1294.8 999.3,1294.8 1005.8,1294.8 1012.3,1294.8 1018.8,1294.8 1025.2,1294.8 1031.7,1294.8 1038.2,1294.8 1044.7,1294.8 1051.2,1294.8 1057.6,1294.8 1064.1,1294.8 1070.6,1294.8 1077.1,1294.8 1083.6,1294.8 1090.1,1294.8 1096.5,1294.8 1103.0,1294.8 1109.5,1294.8 1116.0,1294.8 1122.5,1294.8 1128.9,1294.8 1135.4,1294.8 1141.9,1294.8 1148.4,1294.8 1154.9,1294.8 1161.4,1294.8 1167.8,1294.8 1174.3,1294.8 1180.8,1294.8 1187.3,1294.8 1193.8,1294.8 1200.2,1294.8 1206.7,1294.8 1213.2,1294.8 1219.7,1294.8 1226.2,1294.8 1232.7,1294.8 1239.1,1294.8 1245.6,1294.8 1252.1,1294.8 1258.6,1294.8 1265.1,1294.8 1271.6,1294.8 1278.0,1294.8 1284.5,1294.8 1291.0,1294.8 1297.5,1294.8 1304.0,1294.8 1310.4,1294.8 1316.9,1294.8 1323.4,1294.8 1329.9,1294.8 1336.4,1294.8 1342.9,1294.8 1349.3,1294.8 1355.8,1294.8 1362.3,1294.8 1368.8,1294.8 1375.3,1294.8 1381.7,1294.8 1388.2,1294.8 1394.7,1294.8 1401.2,1294.8 1407.7,1294.8 1414.2,1294.8 1420.6,1294.8 1427.1,1294.8 1433.6,1294.8 1440.1,1294.8 1446.6,1294.8 1453.0,1294.8 1459.5,1294.8 1466.0,1294.8 1472.5,1294.8 1479.0,1294.8 1485.5,1294.8 1491.9,1294.8 1498.4,1294.8 1504.9,1294.8 1511.4,1294.8 1517.9,1294.8 1524.3,1294.8 1530.8,1294.8 1537.3,1294.8 1543.8,1294.8 1550.3,1294.8 1556.8,1294.8 1563.2,1294.8 1569.7,1294.8 1576.2,1294.8 1582.7,1294.8 1589.2,1294.8 1595.7,1294.8 1602.1,1294.8 1608.6,1294.8 1615.1,1294.8 1621.6,1294.8 1628.1,1294.8 1634.5,1294.8 1641.0,1294.8 1647.5,1294.8 1654.0,1294.8 1660.5,1294.8 1667.0,1294.8 1673.4,1294.8 1679.9,1294.8 1686.4,1294.8 1686.4,1298.1"/>
<rect x="133.5" y="736.1" width="4.6" height="564.4" fill="#fff"/>
<rect x="1685.1" y="736.1" width="3" height="564.4" fill="#fff"/>
<rect x="133.5" y="1297.8" width="1555" height="2.6" fill="#fff"/>
<rect x="126" y="1296.9" width="8.8" height="4" fill="#555555"/>
<text x="117.3" y="1311.3" font-size="29.9" text-anchor="end" fill="#555555" stroke="#555555" stroke-width="0.5" textLength="17.7" lengthAdjust="spacingAndGlyphs">0</text>
<rect x="126" y="1187.3" width="8.8" height="4" fill="#555555"/>
<text x="117.3" y="1201.7" font-size="29.9" text-anchor="end" fill="#555555" stroke="#555555" stroke-width="0.5" textLength="35.4" lengthAdjust="spacingAndGlyphs">50</text>
<rect x="126" y="1077.7" width="8.8" height="4" fill="#555555"/>
<text x="117.3" y="1092.1" font-size="29.9" text-anchor="end" fill="#555555" stroke="#555555" stroke-width="0.5" textLength="53.1" lengthAdjust="spacingAndGlyphs">100</text>
<rect x="126" y="968.0" width="8.8" height="4" fill="#555555"/>
<text x="117.3" y="982.4" font-size="29.9" text-anchor="end" fill="#555555" stroke="#555555" stroke-width="0.5" textLength="53.1" lengthAdjust="spacingAndGlyphs">150</text>
<rect x="126" y="858.4" width="8.8" height="4" fill="#555555"/>
<text x="117.3" y="872.8" font-size="29.9" text-anchor="end" fill="#555555" stroke="#555555" stroke-width="0.5" textLength="53.1" lengthAdjust="spacingAndGlyphs">200</text>
<rect x="126" y="748.8" width="8.8" height="4" fill="#555555"/>
<text x="117.3" y="763.2" font-size="29.9" text-anchor="end" fill="#555555" stroke="#555555" stroke-width="0.5" textLength="53.1" lengthAdjust="spacingAndGlyphs">250</text>
<rect x="134.1" y="1300.9" width="4" height="8" fill="#555555"/>
<text x="136.9" y="1341.0" font-size="29.9" text-anchor="middle" fill="#555555" stroke="#555555" stroke-width="0.5" textLength="35.4" lengthAdjust="spacingAndGlyphs">29</text>
<rect x="291.0" y="1301.3" width="1.6" height="3.6" fill="#555555"/>
<text x="291.7" y="1337.0" font-size="29.9" text-anchor="middle" fill="#555555" stroke="#555555" stroke-width="0.5" textLength="35.4" lengthAdjust="spacingAndGlyphs">30</text>
<rect x="446.6" y="1301.3" width="1.6" height="3.6" fill="#555555"/>
<text x="447.4" y="1337.0" font-size="29.9" text-anchor="middle" fill="#555555" stroke="#555555" stroke-width="0.5" textLength="35.4" lengthAdjust="spacingAndGlyphs">31</text>
<rect x="601.0" y="1300.9" width="4" height="8" fill="#555555"/>
<text x="603.8" y="1341.0" font-size="29.9" text-anchor="middle" fill="#555555" stroke="#555555" stroke-width="0.5" textLength="35.4" lengthAdjust="spacingAndGlyphs">01</text>
<rect x="757.9" y="1301.3" width="1.6" height="3.6" fill="#555555"/>
<text x="758.7" y="1337.0" font-size="29.9" text-anchor="middle" fill="#555555" stroke="#555555" stroke-width="0.5" textLength="35.4" lengthAdjust="spacingAndGlyphs">02</text>
<rect x="913.5" y="1301.3" width="1.6" height="3.6" fill="#555555"/>
<text x="914.3" y="1337.0" font-size="29.9" text-anchor="middle" fill="#555555" stroke="#555555" stroke-width="0.5" textLength="35.4" lengthAdjust="spacingAndGlyphs">03</text>
<rect x="1069.2" y="1301.3" width="1.6" height="3.6" fill="#555555"/>
<text x="1070.0" y="1337.0" font-size="29.9" text-anchor="middle" fill="#555555" stroke="#555555" stroke-width="0.5" textLength="35.4" lengthAdjust="spacingAndGlyphs">04</text>
<rect x="1224.8" y="1301.3" width="1.6" height="3.6" fill="#555555"/>
<text x="1225.6" y="1337.0" font-size="29.9" text-anchor="middle" fill="#555555" stroke="#555555" stroke-width="0.5" textLength="35.4" lengthAdjust="spacingAndGlyphs">05</text>
<rect x="1380.5" y="1301.3" width="1.6" height="3.6" fill="#555555"/>
<text x="1381.2" y="1337.0" font-size="29.9" text-anchor="middle" fill="#555555" stroke="#555555" stroke-width="0.5" textLength="35.4" lengthAdjust="spacingAndGlyphs">06</text>
<rect x="1536.2" y="1301.3" width="1.6" height="3.6" fill="#555555"/>
<text x="1536.9" y="1337.0" font-size="29.9" text-anchor="middle" fill="#555555" stroke="#555555" stroke-width="0.5" textLength="35.4" lengthAdjust="spacingAndGlyphs">07</text>
<rect x="1684.1" y="1300.9" width="4" height="8" fill="#555555"/>
<text x="603.7" y="1374.8" font-size="29.2" text-anchor="middle" fill="#555555" stroke="#555555" stroke-width="0.5" textLength="52.4" lengthAdjust="spacingAndGlyphs">Sep</text>
<text x="603.7" y="1406.1" font-size="29.9" text-anchor="middle" fill="#555555" stroke="#555555" stroke-width="0.5" textLength="70.8" lengthAdjust="spacingAndGlyphs">2025</text>
<text x="911.5" y="723.0" font-size="42.0" text-anchor="middle" fill="#000" stroke="#000" stroke-width="0.5" textLength="131.8" lengthAdjust="spacingAndGlyphs">supply</text>
<text x="45.0" y="1020.8" font-size="35.0" text-anchor="middle" fill="#555555" stroke="#555555" stroke-width="0.5" textLength="198.2" lengthAdjust="spacingAndGlyphs" transform="rotate(-90 45.0 1020.8)">power [GW]</text>
<rect x="147.6" y="750.5" width="368.1" height="245.1" rx="5" ry="5" fill="#dfdfdf" fill-opacity="0.8" stroke="#cccccc" stroke-opacity="0.8" stroke-width="2"/>
<rect x="148.6" y="969.0" width="366.1" height="2" fill="#ffffff" fill-opacity="0.36"/>
<rect x="148.6" y="859.4" width="366.1" height="2" fill="#ffffff" fill-opacity="0.36"/>
<rect x="156.0" y="761.2" width="45" height="15.8" fill="#dbf5a4" stroke="#eeeeee" stroke-width="1.2"/>
<text x="219.6" y="778.2" font-size="23.3" text-anchor="start" fill="#000" stroke="#000" stroke-width="0.3" textLength="286.6" lengthAdjust="spacingAndGlyphs">pumped hydro discharger</text>
<rect x="156.0" y="795.2" width="45" height="15.8" fill="#ff0000" stroke="#eeeeee" stroke-width="1.2"/>
<text x="219.6" y="812.2" font-size="23.3" text-anchor="start" fill="#000" stroke="#000" stroke-width="0.3" textLength="192.3" lengthAdjust="spacingAndGlyphs">hydrogen turbine</text>
<rect x="156.0" y="829.3" width="45" height="15.8" fill="#999999" stroke="#eeeeee" stroke-width="1.2"/>
<text x="219.6" y="846.3" font-size="23.3" text-anchor="start" fill="#000" stroke="#000" stroke-width="0.3" textLength="205.4" lengthAdjust="spacingAndGlyphs">battery discharger</text>
<rect x="156.0" y="863.3" width="45" height="15.8" fill="#ffff00" stroke="#eeeeee" stroke-width="1.2"/>
<text x="219.6" y="880.3" font-size="23.3" text-anchor="start" fill="#000" stroke="#000" stroke-width="0.3" textLength="89.7" lengthAdjust="spacingAndGlyphs">solar PV</text>
<rect x="156.0" y="897.4" width="45" height="15.8" fill="#3b6182" stroke="#eeeeee" stroke-width="1.2"/>
<text x="219.6" y="914.4" font-size="23.3" text-anchor="start" fill="#000" stroke="#000" stroke-width="0.3" textLength="148.7" lengthAdjust="spacingAndGlyphs">onshore wind</text>
<rect x="156.0" y="931.4" width="45" height="15.8" fill="#5d83a6" stroke="#eeeeee" stroke-width="1.2"/>
<text x="219.6" y="948.4" font-size="23.3" text-anchor="start" fill="#000" stroke="#000" stroke-width="0.3" textLength="149.9" lengthAdjust="spacingAndGlyphs">offshore wind</text>
<rect x="156.0" y="965.5" width="45" height="15.8" fill="#008000" stroke="#eeeeee" stroke-width="1.2"/>
<text x="219.6" y="982.5" font-size="23.3" text-anchor="start" fill="#000" stroke="#000" stroke-width="0.3" textLength="173.4" lengthAdjust="spacingAndGlyphs">hydroelectricity</text>
</svg></body></html>
